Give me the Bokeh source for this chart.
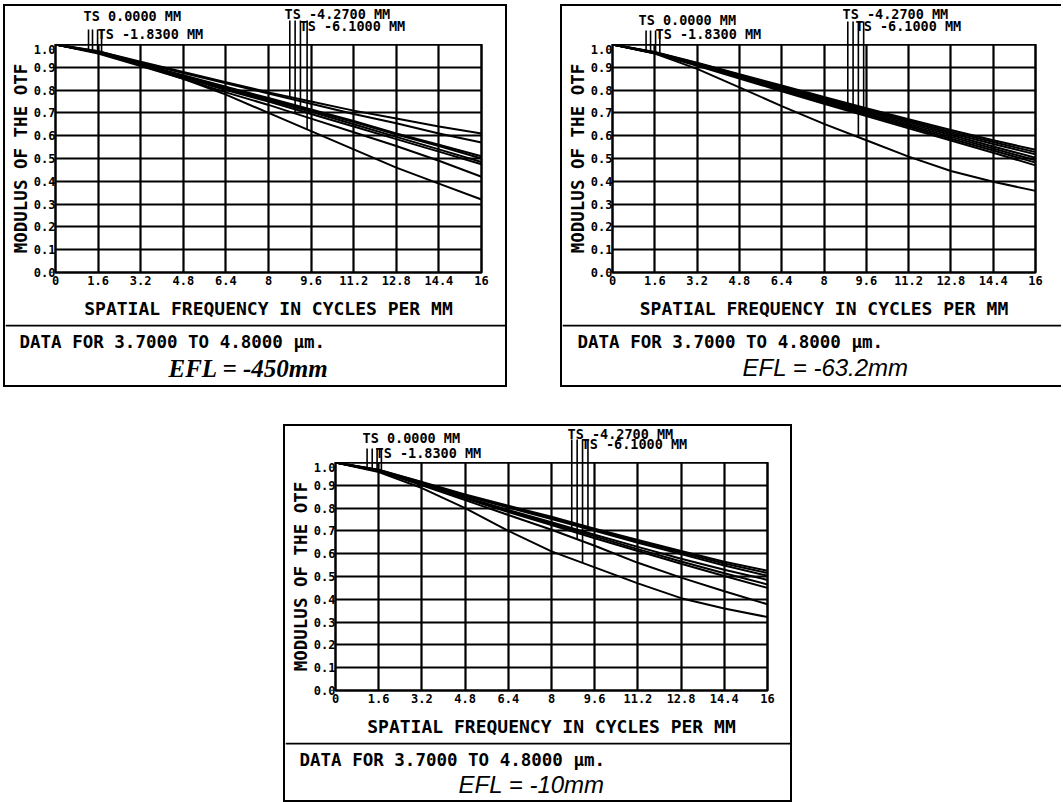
import numpy as np
from bokeh.plotting import figure
from bokeh.layouts import column, row, Spacer
from bokeh.models import FixedTicker, Label, Span, Range1d
from bokeh.embed import file_html
from bokeh.resources import INLINE

# ---------------- data ----------------
freq = [0, 1.6, 3.2, 4.8, 6.4, 8, 9.6, 11.2, 12.8, 14.4, 16]
x_tick_labels = ["0", "1.6", "3.2", "4.8", "6.4", "8", "9.6", "11.2", "12.8", "14.4", "16"]
y_ticks = [0.0, 0.1, 0.2, 0.3, 0.4, 0.5, 0.6, 0.7, 0.8, 0.9, 1.0]
y_tick_labels = ["0.0", "0.1", "0.2", "0.3", "0.4", "0.5", "0.6", "0.7", "0.8", "0.9", "1.0"]

field_labels = ["TS 0.0000 MM", "TS -1.8300 MM", "TS -4.2700 MM", "TS -6.1000 MM"]
x_title = "SPATIAL FREQUENCY IN CYCLES PER MM"
y_title = "MODULUS OF THE OTF"
data_note = "DATA FOR 3.7000 TO 4.8000 \u00b5m."
efl_titles = ["EFL = -450mm", "EFL = -63.2mm", "EFL = -10mm"]

# MTF curves (8 per panel: 4 fields x T/S)
mtf_efl450 = [
    [1.0, 0.970, 0.925, 0.880, 0.835, 0.790, 0.750, 0.710, 0.675, 0.640, 0.610],
    [1.0, 0.970, 0.920, 0.875, 0.830, 0.785, 0.740, 0.695, 0.655, 0.610, 0.570],
    [1.0, 0.965, 0.915, 0.865, 0.815, 0.765, 0.715, 0.665, 0.610, 0.560, 0.510],
    [1.0, 0.965, 0.915, 0.860, 0.810, 0.760, 0.710, 0.660, 0.605, 0.555, 0.500],
    [1.0, 0.965, 0.910, 0.860, 0.805, 0.755, 0.705, 0.650, 0.595, 0.540, 0.485],
    [1.0, 0.965, 0.910, 0.855, 0.800, 0.750, 0.695, 0.640, 0.585, 0.530, 0.475],
    [1.0, 0.960, 0.905, 0.850, 0.790, 0.735, 0.675, 0.615, 0.555, 0.490, 0.420],
    [1.0, 0.965, 0.910, 0.850, 0.780, 0.700, 0.620, 0.540, 0.460, 0.390, 0.320],
]
mtf_efl63 = [
    [1.0, 0.967, 0.920, 0.870, 0.820, 0.770, 0.720, 0.672, 0.625, 0.580, 0.538],
    [1.0, 0.966, 0.918, 0.867, 0.816, 0.765, 0.715, 0.666, 0.618, 0.572, 0.528],
    [1.0, 0.965, 0.916, 0.864, 0.812, 0.761, 0.710, 0.660, 0.611, 0.564, 0.518],
    [1.0, 0.964, 0.914, 0.861, 0.808, 0.756, 0.704, 0.653, 0.603, 0.553, 0.503],
    [1.0, 0.963, 0.912, 0.858, 0.804, 0.751, 0.698, 0.646, 0.595, 0.544, 0.492],
    [1.0, 0.962, 0.910, 0.855, 0.800, 0.746, 0.692, 0.639, 0.587, 0.535, 0.482],
    [1.0, 0.961, 0.907, 0.851, 0.795, 0.740, 0.686, 0.632, 0.579, 0.525, 0.470],
    [1.0, 0.960, 0.893, 0.812, 0.730, 0.652, 0.580, 0.508, 0.445, 0.398, 0.358],
]
mtf_efl10 = [
    [1.0, 0.968, 0.915, 0.860, 0.810, 0.762, 0.710, 0.660, 0.612, 0.565, 0.525],
    [1.0, 0.967, 0.913, 0.857, 0.806, 0.757, 0.705, 0.654, 0.605, 0.557, 0.515],
    [1.0, 0.966, 0.911, 0.854, 0.802, 0.752, 0.700, 0.648, 0.598, 0.548, 0.503],
    [1.0, 0.965, 0.908, 0.848, 0.792, 0.738, 0.683, 0.630, 0.578, 0.530, 0.485],
    [1.0, 0.964, 0.906, 0.845, 0.788, 0.732, 0.676, 0.620, 0.566, 0.514, 0.465],
    [1.0, 0.963, 0.904, 0.842, 0.783, 0.726, 0.668, 0.612, 0.556, 0.502, 0.450],
    [1.0, 0.962, 0.900, 0.835, 0.770, 0.705, 0.635, 0.560, 0.495, 0.435, 0.378],
    [1.0, 0.958, 0.888, 0.800, 0.700, 0.610, 0.540, 0.470, 0.405, 0.360, 0.322],
]

# legend leader-line frequencies and the curve each one touches
leader_freq_450 = [1.24, 1.39, 1.58, 1.73, 8.80, 9.00, 9.20, 9.45]
leader_curve_450 = [1, 2, 4, 5, 0, 6, 3, 7]
leader_freq_63 = [1.27, 1.44, 1.63, 1.79, 8.90, 9.10, 9.30, 9.50]
leader_curve_63 = [1, 3, 5, 6, 0, 2, 7, 4]
leader_freq_10 = [1.17, 1.36, 1.54, 1.70, 8.75, 8.95, 9.15, 9.35]
leader_curve_10 = [1, 2, 4, 5, 3, 6, 7, 0]

# ---------------- layout (pixel geometry) ----------------
MONO = "DejaVu Sans Mono"
BOX_ALL = "0 0 0 2px black"
BOX_NO_RIGHT = ("-2px 0 0 0 black, 0 -2px 0 0 black, 0 2px 0 0 black, "
                "-2px -2px 0 0 black, -2px 2px 0 0 black")

panels = [
    dict(left=5, top=6, w=500, fl=55, fr=481, strip_h=38, bottom_border=52, note_h=61,
         labels=[(83, 9), (97, 27), (284, 7), (299, 19)], ltop=(23, 14),
         note=(14, 17), efl=(243, 44), shadow=BOX_ALL,
         efl_font="Liberation Serif", efl_style="bold italic", efl_size="25px"),
    dict(left=562, top=6, w=499, fl=612, fr=1035, strip_h=38, bottom_border=52, note_h=61,
         labels=[(638, 13), (655, 27), (842, 7), (855, 19)], ltop=(24, 15),
         note=(15, 17), efl=(263, 43), shadow=BOX_NO_RIGHT,
         efl_font="Liberation Sans", efl_style="italic", efl_size="24px"),
    dict(left=285, top=426, w=505, fl=335, fr=767, strip_h=36, bottom_border=52, note_h=58,
         labels=[(362, 11), (375, 26), (567, 7), (581, 17)], ltop=(22, 13),
         note=(14, 17), efl=(246, 42), shadow=BOX_ALL,
         efl_font="Liberation Sans", efl_style="italic", efl_size="24px"),
]
FRAME_H = 228


def base_fig(w, h, **kw):
    return figure(width=w, height=h, output_backend="svg", toolbar_location=None,
                  title=None, background_fill_color="white", border_fill_color="white",
                  **kw)


def make_panel(cfg, curves, leader_freq, leader_curve, efl_text):
    w = cfg["w"]
    bl = cfg["fl"] - cfg["left"]
    br = cfg["left"] + w - cfg["fr"]
    fw = cfg["fr"] - cfg["fl"]

    def X(px):
        return (px - cfg["fl"]) / fw * 16.0

    leader_bottom = [float(np.interp(f, freq, curves[c])) for f, c in zip(leader_freq, leader_curve)]

    # ---- strip above the plot: field labels + upper part of leader lines
    hs = cfg["strip_h"]
    s = base_fig(w, hs, x_range=Range1d(0, 16), y_range=Range1d(hs, 0),
                 x_axis_location=None, y_axis_location=None,
                 min_border_left=bl, min_border_right=br, min_border_top=0, min_border_bottom=0)
    s.outline_line_color = None
    s.grid.visible = False
    tops = [cfg["ltop"][0]] * 4 + [cfg["ltop"][1]] * 4
    s.segment(x0=leader_freq, y0=[hs] * 8, x1=leader_freq, y1=tops,
              line_color="black", line_width=1.6)
    for txt, (lx, ly) in zip(field_labels, cfg["labels"]):
        s.add_layout(Label(x=X(lx), y=ly, text=txt, text_font=MONO,
                           text_font_style="bold", text_font_size="13.5px",
                           text_baseline="middle", text_align="left", text_color="black"))

    # ---- the MTF chart
    p = base_fig(w, FRAME_H + cfg["bottom_border"], x_range=Range1d(0, 16), y_range=Range1d(0, 1),
                 min_border_left=bl, min_border_right=br, min_border_top=0,
                 min_border_bottom=cfg["bottom_border"])
    p.xaxis.ticker = FixedTicker(ticks=freq)
    p.yaxis.ticker = FixedTicker(ticks=y_ticks)
    p.xaxis.major_label_overrides = {t: l for t, l in zip(freq, x_tick_labels)}
    p.yaxis.major_label_overrides = {t: l for t, l in zip(y_ticks, y_tick_labels)}
    p.xgrid.ticker = FixedTicker(ticks=freq)
    p.ygrid.ticker = FixedTicker(ticks=y_ticks)
    for g in (p.xgrid, p.ygrid):
        g.grid_line_color = "black"
        g.grid_line_width = 2.2
        g.grid_line_alpha = 1.0
    p.outline_line_color = "black"
    p.outline_line_width = 2.5
    p.outline_line_alpha = 1.0
    for ax in (p.xaxis, p.yaxis):
        ax.axis_line_color = None
        ax.major_tick_line_color = None
        ax.minor_tick_line_color = None
        ax.major_tick_out = 0
        ax.major_tick_in = 0
        ax.minor_tick_out = 0
        ax.minor_tick_in = 0
        ax.major_label_text_font = MONO
        ax.major_label_text_font_style = "bold"
        ax.major_label_text_font_size = "12px"
        ax.major_label_text_color = "black"
        ax.axis_label_text_font = MONO
        ax.axis_label_text_font_style = "bold"
        ax.axis_label_text_color = "black"
    p.xaxis.axis_label = x_title
    p.yaxis.axis_label = y_title
    p.xaxis.axis_label_text_font_size = "18px"
    p.yaxis.axis_label_text_font_size = "17.5px"
    p.xaxis.major_label_standoff = 3
    p.yaxis.major_label_standoff = 0
    p.xaxis.axis_label_standoff = 10
    p.yaxis.axis_label_standoff = 0

    for c in curves:
        p.line(freq, c, line_color="black", line_width=2.0)
    p.segment(x0=leader_freq, y0=leader_bottom, x1=leader_freq, y1=[1.0] * 8,
              line_color="black", line_width=1.6)

    # ---- note area under the chart
    hn = cfg["note_h"]
    n = base_fig(w, hn, x_range=Range1d(0, w), y_range=Range1d(hn, 0),
                 x_axis_location=None, y_axis_location=None,
                 min_border_left=0, min_border_right=0, min_border_top=0, min_border_bottom=0)
    n.outline_line_color = None
    n.grid.visible = False
    n.add_layout(Span(location=1, dimension="width", line_color="black", line_width=2))
    nx, ny = cfg["note"]
    n.add_layout(Label(x=nx, y=ny, text=data_note, text_font=MONO, text_font_style="bold",
                       text_font_size="17.5px", text_baseline="middle", text_align="left",
                       text_color="black"))
    ex, ey = cfg["efl"]
    n.add_layout(Label(x=ex, y=ey, text=efl_text, text_font=cfg["efl_font"],
                       text_font_style=cfg["efl_style"], text_font_size=cfg["efl_size"],
                       text_baseline="middle", text_align="center", text_color="black"))

    return column(s, p, row(n), styles={"box-shadow": cfg["shadow"]})


c1 = make_panel(panels[0], mtf_efl450, leader_freq_450, leader_curve_450, efl_titles[0])
c2 = make_panel(panels[1], mtf_efl63, leader_freq_63, leader_curve_63, efl_titles[1])
c3 = make_panel(panels[2], mtf_efl10, leader_freq_10, leader_curve_10, efl_titles[2])

h_top = panels[0]["strip_h"] + FRAME_H + panels[0]["bottom_border"] + panels[0]["note_h"]
h_bot = panels[2]["strip_h"] + FRAME_H + panels[2]["bottom_border"] + panels[2]["note_h"]

top_row = row(Spacer(width=panels[0]["left"], height=h_top), c1,
              Spacer(width=panels[1]["left"] - panels[0]["left"] - panels[0]["w"], height=h_top), c2)
gap = panels[2]["top"] - panels[0]["top"] - h_top
bottom_row = row(Spacer(width=panels[2]["left"], height=h_bot), c3)
layout = column(Spacer(width=1000, height=panels[0]["top"]), top_row,
                Spacer(width=1000, height=gap), bottom_row)

open("out.html", "w").write(file_html(layout, INLINE))
